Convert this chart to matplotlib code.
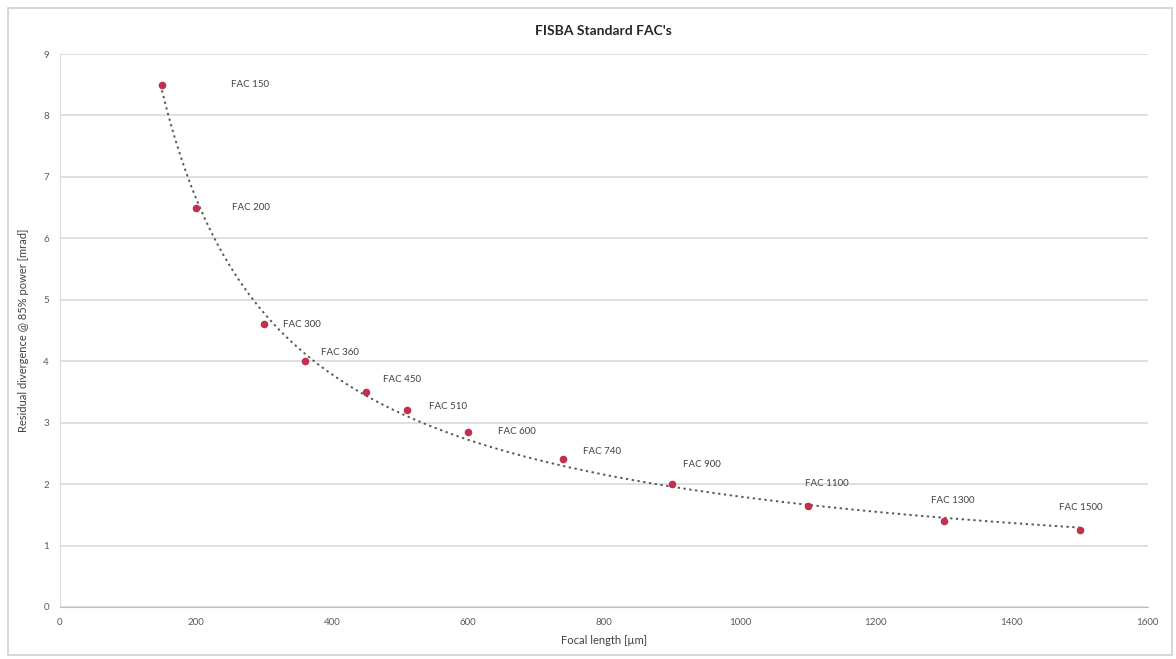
import numpy as np
import matplotlib.pyplot as plt
from matplotlib.patches import Rectangle

plt.rcParams["font.family"] = ["Lato", "DejaVu Sans"]

labels = ["FAC 150", "FAC 200", "FAC 300", "FAC 360", "FAC 450", "FAC 510",
          "FAC 600", "FAC 740", "FAC 900", "FAC 1100", "FAC 1300", "FAC 1500"]
focal_length = [150, 200, 300, 360, 450, 510, 600, 740, 900, 1100, 1300, 1500]
divergence = [8.5, 6.5, 4.6, 4.0, 3.5, 3.2, 2.85, 2.4, 2.0, 1.65, 1.4, 1.25]

# label offsets in points (style only)
label_offsets = [(50, 0), (26, 0), (14, 0), (12, 6), (12, 9), (16, 3),
                 (22, 0), (14, 6), (8, 14), (-2, 16), (-9, 15), (-15, 16)]

# power trendline y = a * x^b
b, log_a = np.polyfit(np.log(focal_length), np.log(divergence), 1)
x_fit = np.linspace(min(focal_length), max(focal_length), 300)
y_fit = np.exp(log_a) * x_fit ** b

fig = plt.figure(figsize=(11.76, 6.59), dpi=100)
fig.patches.append(Rectangle((0.007, 0.006), 0.99, 0.982, transform=fig.transFigure,
                             fill=False, edgecolor="#d0d0d0", linewidth=1.2))
ax = fig.add_axes([0.051, 0.079, 0.925, 0.839])

ax.plot(x_fit, y_fit, linestyle=(0, (1.2, 1.8)), color="#595959", linewidth=1.4, zorder=2)
ax.scatter(focal_length, divergence, s=20, color="#c0304f", zorder=3)

for lab, x, y, off in zip(labels, focal_length, divergence, label_offsets):
    ax.annotate(lab, (x, y), xytext=off, textcoords="offset points",
                fontsize=7, color="#404040", va="center", ha="left")

ax.set_xlim(0, 1600)
ax.set_ylim(0, 9)
ax.set_xticks(range(0, 1601, 200))
ax.set_yticks(range(0, 10))
ax.grid(axis="y", color="#d9d9d9", linewidth=1.2)
ax.set_axisbelow(True)
for side in ["top", "right"]:
    ax.spines[side].set_visible(False)
ax.spines["left"].set_color("#d9d9d9")
ax.spines["bottom"].set_color("#bfbfbf")
ax.tick_params(length=0, labelsize=7, colors="#595959", pad=8)

ax.set_title("FISBA Standard FAC's", fontsize=10, fontweight="bold", color="#262626", pad=14)
ax.set_xlabel("Focal length [\u00b5m]", fontsize=8, color="#404040", labelpad=6)
ax.set_ylabel("Residual divergence @ 85% power [mrad]", fontsize=8, color="#404040", labelpad=10)

fig.savefig("out.png", dpi=100)
